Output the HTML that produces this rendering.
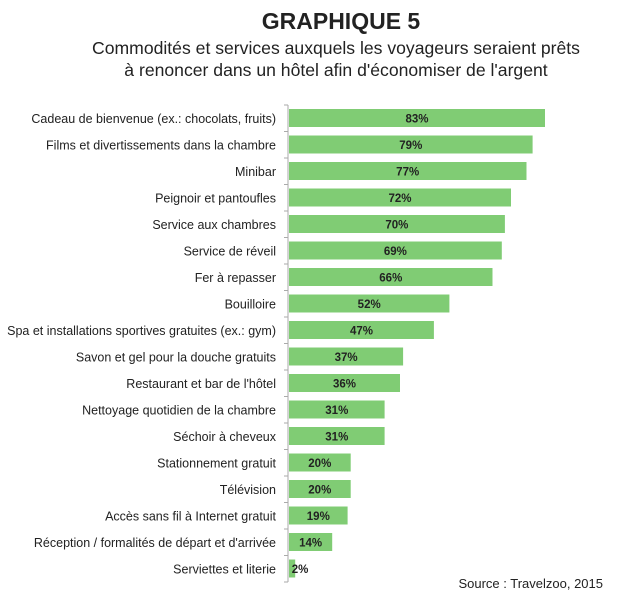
<!DOCTYPE html>
<html><head><style>body{margin:0;background:#fff}</style></head><body>
<svg width="619" height="605" xmlns="http://www.w3.org/2000/svg" font-family="Liberation Sans, Arial, sans-serif">
<rect width="619" height="605" fill="#fff"/>
<text x="341" y="29" text-anchor="middle" font-size="23" font-weight="bold" fill="#222">GRAPHIQUE 5</text>
<text x="336" y="54" text-anchor="middle" font-size="17.6" fill="#222">Commodités et services auxquels les voyageurs seraient prêts</text>
<text x="336" y="76" text-anchor="middle" font-size="17.6" fill="#222">à renoncer dans un hôtel afin d'économiser de l'argent</text>
<g fill="#80cc74">
<rect x="289" y="109" width="256" height="18"/>
<rect x="289" y="135.5" width="243.6" height="18"/>
<rect x="289" y="162" width="237.5" height="18"/>
<rect x="289" y="188.5" width="222" height="18"/>
<rect x="289" y="215" width="215.9" height="18"/>
<rect x="289" y="241.5" width="212.8" height="18"/>
<rect x="289" y="268" width="203.5" height="18"/>
<rect x="289" y="294.5" width="160.4" height="18"/>
<rect x="289" y="321" width="144.9" height="18"/>
<rect x="289" y="347.5" width="114.1" height="18"/>
<rect x="289" y="374" width="111" height="18"/>
<rect x="289" y="400.5" width="95.6" height="18"/>
<rect x="289" y="427" width="95.6" height="18"/>
<rect x="289" y="453.5" width="61.7" height="18"/>
<rect x="289" y="480" width="61.7" height="18"/>
<rect x="289" y="506.5" width="58.6" height="18"/>
<rect x="289" y="533" width="43.2" height="18"/>
<rect x="289" y="559.5" width="6.2" height="18"/>
</g>
<g stroke="#aaa">
<line x1="288" y1="105" x2="288" y2="582"/>
<line x1="284" y1="105" x2="288" y2="105"/><line x1="284" y1="131.5" x2="288" y2="131.5"/><line x1="284" y1="158" x2="288" y2="158"/><line x1="284" y1="184.5" x2="288" y2="184.5"/><line x1="284" y1="211" x2="288" y2="211"/><line x1="284" y1="237.5" x2="288" y2="237.5"/><line x1="284" y1="264" x2="288" y2="264"/><line x1="284" y1="290.5" x2="288" y2="290.5"/><line x1="284" y1="317" x2="288" y2="317"/><line x1="284" y1="343.5" x2="288" y2="343.5"/><line x1="284" y1="370" x2="288" y2="370"/><line x1="284" y1="396.5" x2="288" y2="396.5"/><line x1="284" y1="423" x2="288" y2="423"/><line x1="284" y1="449.5" x2="288" y2="449.5"/><line x1="284" y1="476" x2="288" y2="476"/><line x1="284" y1="502.5" x2="288" y2="502.5"/><line x1="284" y1="529" x2="288" y2="529"/><line x1="284" y1="555.5" x2="288" y2="555.5"/><line x1="284" y1="582" x2="288" y2="582"/>
</g>
<g font-size="12.5" fill="#222" text-anchor="end">
<text x="276" y="123">Cadeau de bienvenue (ex.: chocolats, fruits)</text>
<text x="276" y="149.5">Films et divertissements dans la chambre</text>
<text x="276" y="176">Minibar</text>
<text x="276" y="202.5">Peignoir et pantoufles</text>
<text x="276" y="229">Service aux chambres</text>
<text x="276" y="255.5">Service de réveil</text>
<text x="276" y="282">Fer à repasser</text>
<text x="276" y="308.5">Bouilloire</text>
<text x="276" y="335">Spa et installations sportives gratuites (ex.: gym)</text>
<text x="276" y="361.5">Savon et gel pour la douche gratuits</text>
<text x="276" y="388">Restaurant et bar de l'hôtel</text>
<text x="276" y="414.5">Nettoyage quotidien de la chambre</text>
<text x="276" y="441">Séchoir à cheveux</text>
<text x="276" y="467.5">Stationnement gratuit</text>
<text x="276" y="494">Télévision</text>
<text x="276" y="520.5">Accès sans fil à Internet gratuit</text>
<text x="276" y="547">Réception / formalités de départ et d'arrivée</text>
<text x="276" y="573.5">Serviettes et literie</text>
</g>
<g font-size="11.5" font-weight="bold" fill="#222" text-anchor="middle">
<text x="417" y="122.5">83%</text>
<text x="410.8" y="149">79%</text>
<text x="407.7" y="175.5">77%</text>
<text x="400" y="202">72%</text>
<text x="396.9" y="228.5">70%</text>
<text x="395.4" y="255">69%</text>
<text x="390.8" y="281.5">66%</text>
<text x="369.2" y="308">52%</text>
<text x="361.5" y="334.5">47%</text>
<text x="346.1" y="361">37%</text>
<text x="344.5" y="387.5">36%</text>
<text x="336.8" y="414">31%</text>
<text x="336.8" y="440.5">31%</text>
<text x="319.8" y="467">20%</text>
<text x="319.8" y="493.5">20%</text>
<text x="318.3" y="520">19%</text>
<text x="310.6" y="546.5">14%</text>
<text x="300" y="573">2%</text>
</g>
<text x="603" y="588" text-anchor="end" font-size="13" fill="#222">Source : Travelzoo, 2015</text>
</svg>
</body></html>
